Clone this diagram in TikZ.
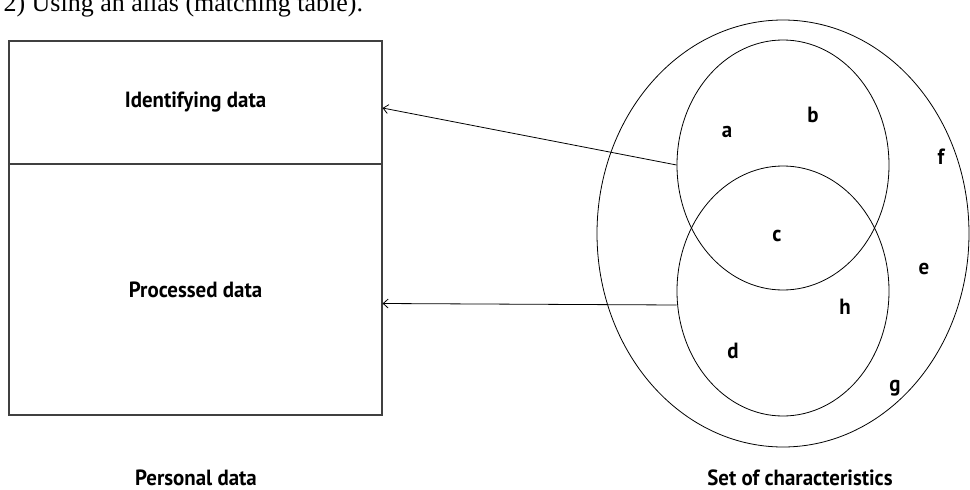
\documentclass[tikz,border=0pt]{standalone}
\usepackage{fontspec}
\setmainfont{PT Sans}[FakeStretch=0.95]
\newfontfamily\titlefont{Liberation Serif}
\usetikzlibrary{shapes.geometric,arrows.meta}

\begin{document}
\begin{tikzpicture}[x=1pt,y=-1pt,
				every node/.style={font=\fontsize{22}{26}\selectfont\bfseries},
				cell/.style={draw=black!75,line width=1.2pt,minimum width=373pt,inner sep=0pt},
				set/.style={draw,ellipse,line width=0.8pt,inner sep=0pt},
				link/.style={-{Straight Barb[length=5pt,width=9pt]},line width=0.8pt}]
\useasboundingbox (0,0) rectangle (970,490);
\node[anchor=base west,font=\fontsize{26}{30}\titlefont] (title) at (0,11) {2) Using an alias (matching table).};
% personal data table
\node[cell,minimum height=123pt] (ident) at (195.5,102.5) {Identifying data};
\node[cell,minimum height=251pt] (proc) at (195.5,289.5) {Processed data};
% set of characteristics
\node[set,minimum width=372pt,minimum height=427pt] (chars) at (783,233.5) {};
\node[set,minimum width=212pt,minimum height=250pt] (upper) at (783,165) {};
\node[set,minimum width=212pt,minimum height=250pt] (lower) at (783,291) {};
\node (a) at (727,132) {a};
\node (b) at (813,115) {b};
\node (c) at (777,236) {c};
\node (d) at (733,351) {d};
\node (e) at (924,269) {e};
\node (f) at (941,157) {f};
\node (g) at (895,388) {g};
\node (h) at (845,307) {h};
\draw[link] (upper.west) -- ([yshift=-5.5pt]ident.east);
\draw[link] ([yshift=-14pt]lower.west) -- ([yshift=-14pt]proc.east);
% captions
\node (personal) at (196,478) {Personal data};
\node (setchars) at (800,478) {Set of characteristics};
\end{tikzpicture}
\end{document}
